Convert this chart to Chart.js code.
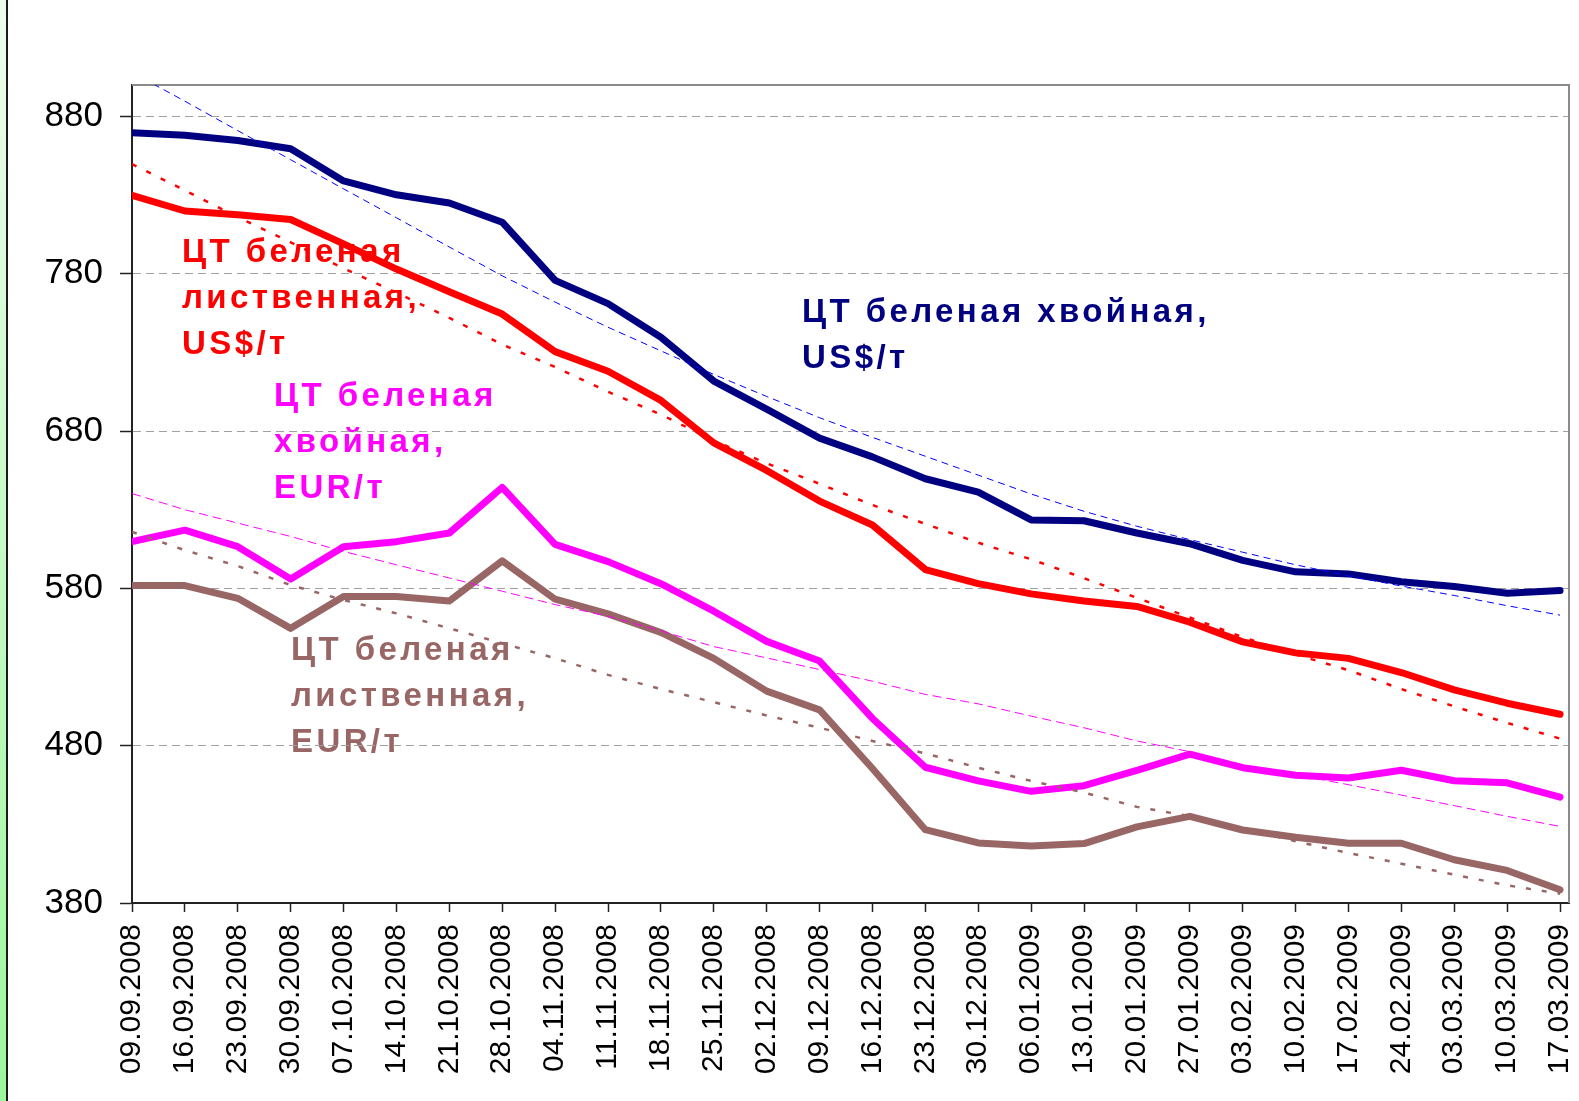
<!DOCTYPE html>
<html>
<head>
<meta charset="utf-8">
<script src="https://cdn.jsdelivr.net/npm/chart.js@4.4.1/dist/chart.umd.min.js"></script>
<style>
  html, body { margin: 0; padding: 0; background: #fff; }
  #wrap { position: relative; width: 1579px; height: 1101px; overflow: hidden; }
  #strip {
    position: absolute; left: 0; top: 0; width: 6px; height: 1101px;
    background: linear-gradient(to bottom, #eefcee, #9cf79c);
    border-right: 2px solid #1a1a1a;
  }
  canvas { position: absolute; left: 0; top: 0; }
</style>
</head>
<body>
<div id="wrap">
  <div id="strip"></div>
  <canvas id="chart" width="1579" height="1101"></canvas>
</div>
<script>
const FONT = 'Arial, "Liberation Sans", sans-serif';

// weekly dates (x axis)
const dates = [
  "09.09.2008", "16.09.2008", "23.09.2008", "30.09.2008", "07.10.2008",
  "14.10.2008", "21.10.2008", "28.10.2008", "04.11.2008", "11.11.2008",
  "18.11.2008", "25.11.2008", "02.12.2008", "09.12.2008", "16.12.2008",
  "23.12.2008", "30.12.2008", "06.01.2009", "13.01.2009", "20.01.2009",
  "27.01.2009", "03.02.2009", "10.02.2009", "17.02.2009", "24.02.2009",
  "03.03.2009", "10.03.2009", "17.03.2009",
];

const yTicks = [380, 480, 580, 680, 780, 880];

// ЦТ беленая хвойная, US$/т
const softwoodUsd = [
  869.7, 868, 864.7, 859.5, 839, 830.2, 825, 812.8, 775.8, 761,
  739.6, 711.8, 694, 675.5, 663.6, 649.7, 641.2, 623.5, 623, 615.2,
  608.4, 597.8, 590.5, 589.2, 584.2, 581.2, 576.9, 578.6,
];
// ЦТ беленая лиственная, US$/т
const hardwoodUsd = [
  829.8, 819.9, 817.5, 814.5, 799, 783, 768.6, 754.4, 730.5, 718,
  699.5, 672.5, 655, 635.5, 620.3, 592, 583, 576.5, 572, 568.5,
  558.5, 546, 539, 535.5, 526.5, 515.5, 507, 500,
];
// ЦТ беленая хвойная, EUR/т
const softwoodEur = [
  609.7, 617, 606.5, 586, 606.5, 609.7, 615.2, 644.2, 608, 597,
  583, 565.5, 546.3, 533.8, 497.3, 466.3, 457.6, 451, 454.6, 464.3,
  474.6, 466, 461.2, 459.5, 464.4, 457.7, 456.4, 447.3,
];
// ЦТ беленая лиственная, EUR/т
const hardwoodEur = [
  581.8, 581.8, 573.7, 554.6, 574.9, 574.9, 572, 597.5, 573.1, 563.8,
  552, 535.5, 514.7, 502.8, 465.5, 426.6, 418.2, 416.2, 417.8, 428.4,
  435.1, 426.4, 421.8, 418, 418, 407.5, 400.7, 388.4,
];

// trend lines
const softwoodUsdTrend = [
  908, 889.7, 871, 852.5, 834, 815.6, 797, 778.7, 762, 746,
  731, 716, 702, 688.5, 676, 664, 652, 640, 629, 619.5,
  611, 603, 595, 588, 581.5, 575.5, 569, 563,
];
const hardwoodUsdTrend = [
  849.7, 833, 816, 800, 783.5, 768, 752, 735, 720.7, 705,
  690.5, 674, 659.5, 646.5, 633, 621, 609, 598.5, 586.5, 574,
  561.5, 549, 538, 528, 516, 505, 494.5, 484.5,
];
const softwoodEurTrend = [
  640.3, 630, 621.5, 613, 603.5, 595, 586.6, 578.2, 569.7, 562.3,
  553, 543, 535.8, 528.4, 521, 512.6, 506.6, 498.8, 491.4, 483,
  476.2, 467.9, 461.6, 455.2, 448.6, 441.9, 435.1, 428.7,
];
const hardwoodEurTrend = [
  615.9, 604.3, 594.2, 582.1, 572.6, 564.1, 554.6, 545.1, 535.6, 525,
  516, 507.7, 499.2, 491.4, 483, 475.1, 466, 457.6, 450.2, 441.1,
  435.2, 427.7, 419.2, 411.8, 405, 398, 391.2, 385.9,
];

const seriesLabels = [
  { lines: ["ЦТ беленая", "лиственная,", "US$/т"], color: "#ff0000", x: 182, y: 262 },
  { lines: ["ЦТ беленая хвойная,", "US$/т"], color: "#000080", x: 802, y: 322 },
  { lines: ["ЦТ беленая", "хвойная,", "EUR/т"], color: "#ff00ff", x: 274, y: 406 },
  { lines: ["ЦТ беленая", "лиственная,", "EUR/т"], color: "#996666", x: 291, y: 660 },
];

const toPoints = (arr) => arr.map((v, i) => ({ x: i, y: v }));

function mainLine(data, color) {
  return {
    data: toPoints(data),
    borderColor: color,
    borderWidth: 7,
    borderCapStyle: "round",
    borderJoinStyle: "round",
    pointRadius: 0,
    tension: 0,
    order: 2,
  };
}

function trendLine(data, color, width, dash) {
  return {
    data: toPoints(data),
    borderColor: color,
    borderWidth: width,
    borderDash: dash,
    pointRadius: 0,
    tension: 0,
    order: 1,
  };
}

// labels sit under the grid and the lines
const labelPlugin = {
  id: "seriesLabels",
  beforeDraw(chart) {
    const ctx = chart.ctx;
    ctx.save();
    ctx.font = "bold 33px " + FONT;
    ctx.letterSpacing = "3.4px";
    ctx.textBaseline = "alphabetic";
    seriesLabels.forEach((lab) => {
      ctx.fillStyle = lab.color;
      lab.lines.forEach((t, k) => ctx.fillText(t, lab.x, lab.y + k * 45.8));
    });
    ctx.restore();
  },
};

// gray plot frame at top and right
const framePlugin = {
  id: "plotFrame",
  beforeDatasetsDraw(chart) {
    const { ctx, chartArea: a } = chart;
    ctx.save();
    ctx.strokeStyle = "#8a8a8a";
    ctx.lineWidth = 2;
    ctx.beginPath();
    ctx.moveTo(a.left, a.top);
    ctx.lineTo(a.right, a.top);
    ctx.lineTo(a.right, a.bottom);
    ctx.stroke();
    ctx.restore();
  },
};

new Chart(document.getElementById("chart").getContext("2d"), {
  type: "line",
  data: {
    datasets: [
      trendLine(softwoodUsdTrend, "#0000ff", 1, [7, 5]),
      trendLine(hardwoodUsdTrend, "#ff0000", 2.5, [5, 11]),
      trendLine(softwoodEurTrend, "#ff00ff", 1, [9, 5]),
      trendLine(hardwoodEurTrend, "#996666", 2.5, [5, 11]),
      mainLine(softwoodUsd, "#000080"),
      mainLine(hardwoodUsd, "#ff0000"),
      mainLine(softwoodEur, "#ff00ff"),
      mainLine(hardwoodEur, "#996666"),
    ],
  },
  options: {
    responsive: false,
    animation: false,
    layout: { padding: { top: 85, right: 10, left: 0, bottom: 0 } },
    plugins: { legend: { display: false }, tooltip: { enabled: false } },
    scales: {
      x: {
        type: "linear",
        min: 0,
        max: 27.17,
        afterBuildTicks: (s) => { s.ticks = dates.map((d, i) => ({ value: i })); },
        afterFit: (s) => { s.height = 198; s.paddingRight = 0; s.paddingLeft = 0; },
        ticks: {
          autoSkip: false,
          maxRotation: 90,
          minRotation: 90,
          padding: 12,
          color: "#000",
          font: { size: 30, family: FONT },
          callback: (v) => dates[v],
        },
        grid: { drawOnChartArea: false, tickLength: 9, tickColor: "#222", tickWidth: 1.5 },
        border: { color: "#222", width: 2 },
      },
      y: {
        min: 380,
        max: 900,
        afterBuildTicks: (s) => { s.ticks = yTicks.map((v) => ({ value: v })); },
        afterFit: (s) => { s.width = 132; },
        ticks: { padding: 17, color: "#000", font: { size: 35, family: FONT } },
        grid: { color: "#a0a0a0", lineWidth: 1, tickLength: 12, tickColor: "#222", tickWidth: 1.5 },
        border: { color: "#222", width: 2, dash: [8, 5] },
      },
    },
  },
  plugins: [labelPlugin, framePlugin],
});
</script>
</body>
</html>
